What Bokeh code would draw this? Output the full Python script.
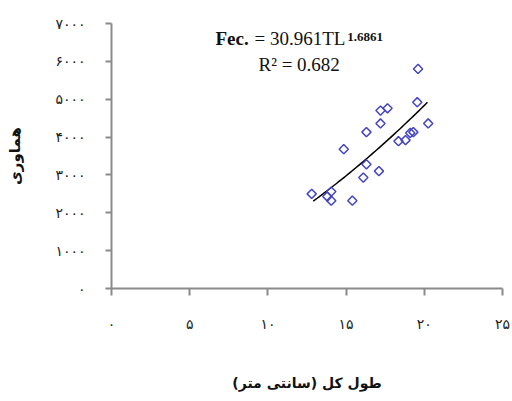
import numpy as np
from bokeh.plotting import figure
from bokeh.models import FixedTicker, Label, Range1d
from bokeh.embed import file_html
from bokeh.resources import INLINE

# Data
total_length = [19.6, 19.55, 17.2, 17.65, 17.2, 20.25, 16.3, 18.35, 18.8, 19.1,
                19.3, 14.85, 16.3, 16.1, 17.1, 12.8, 13.8, 14.05, 14.05, 15.4]
fecundity = [5800, 4920, 4700, 4760, 4360, 4360, 4130, 3890, 3920, 4110,
             4130, 3680, 3280, 2930, 3100, 2500, 2430, 2560, 2320, 2320]

# Trend line as printed on the chart: Fec. = a * TL^b, over the drawn span
fit_a = 30.961
fit_b = 1.6861
fit_span = [12.9, 20.2]

x_ticks = [0, 5, 10, 15, 20, 25]
x_tick_labels = ["۰", "۵", "۱۰", "۱۵", "۲۰", "۲۵"]
y_ticks = [0, 1000, 2000, 3000, 4000, 5000, 6000, 7000]
y_tick_labels = ["۰", "۱۰۰۰", "۲۰۰۰", "۳۰۰۰", "۴۰۰۰", "۵۰۰۰", "۶۰۰۰", "۷۰۰۰"]

x_title = "طول کل (سانتی متر)"
y_title = "هماوری"
eq_main_1 = "Fec."
eq_main_2 = "= 30.961TL"
eq_power = "1.6861"
eq_r2 = "R² = 0.682"

p = figure(width=512, height=401, output_backend="svg", toolbar_location=None,
           x_range=Range1d(0, 25), y_range=Range1d(0, 7000),
           min_border_left=111, min_border_right=10, min_border_top=23,
           min_border_bottom=113)
p.outline_line_color = None
p.xgrid.grid_line_color = None
p.ygrid.grid_line_color = None
p.background_fill_color = "white"
p.border_fill_color = "white"

axis_color = "#8a8a8a"
for ax in (p.xaxis[0], p.yaxis[0]):
    ax.axis_line_color = axis_color
    ax.axis_line_width = 2
    ax.major_tick_line_color = axis_color
    ax.major_tick_line_width = 2
    ax.minor_tick_line_color = None
    ax.major_tick_in = 0
    ax.major_label_text_font = "DejaVu Sans"
    ax.major_label_text_font_size = "14px"
    ax.major_label_text_color = "#222222"
    ax.axis_label_text_font = "DejaVu Sans"
    ax.axis_label_text_font_style = "bold"
    ax.axis_label_text_color = "#111111"

p.xaxis.ticker = FixedTicker(ticks=x_ticks)
p.xaxis.major_label_overrides = {t: l for t, l in zip(x_ticks, x_tick_labels)}
p.xaxis.major_tick_out = 7
p.xaxis.major_label_standoff = 20
p.xaxis.axis_label = x_title
p.xaxis.axis_label_text_font_size = "14px"
p.xaxis.axis_label_standoff = 40

p.yaxis.ticker = FixedTicker(ticks=y_ticks)
p.yaxis.major_label_overrides = {t: l for t, l in zip(y_ticks, y_tick_labels)}
p.yaxis.major_tick_out = 6
p.yaxis.major_label_standoff = 20
p.yaxis.axis_label = y_title
p.yaxis.axis_label_text_font_size = "15px"
p.yaxis.axis_label_standoff = 28

# trend line
xs = np.linspace(fit_span[0], fit_span[1], 60)
ys = fit_a * xs ** fit_b
p.line(xs, ys, line_color="black", line_width=1.5)

# points
p.scatter(total_length, fecundity, marker="square", angle=np.pi / 4, size=6.5,
          fill_color=None, line_color="#4545c4", line_width=1.5)

# equation text
serif = "Liberation Serif"
p.add_layout(Label(x=6.65, y=6596, text=eq_main_1, text_font=serif,
                   text_font_size="19px", text_font_style="bold",
                   text_color="#111111", text_baseline="alphabetic"))
p.add_layout(Label(x=9.14, y=6596, text=eq_main_2, text_font=serif,
                   text_font_size="19px", text_color="#111111",
                   text_baseline="alphabetic"))
p.add_layout(Label(x=15.07, y=6643, text=eq_power, text_font=serif,
                   text_font_size="13px", text_font_style="bold",
                   text_color="#111111", text_baseline="alphabetic"))
p.add_layout(Label(x=9.40, y=5917, text=eq_r2, text_font=serif,
                   text_font_size="19px", text_color="#111111",
                   text_baseline="alphabetic"))

open("out.html", "w").write(file_html(p, INLINE))
